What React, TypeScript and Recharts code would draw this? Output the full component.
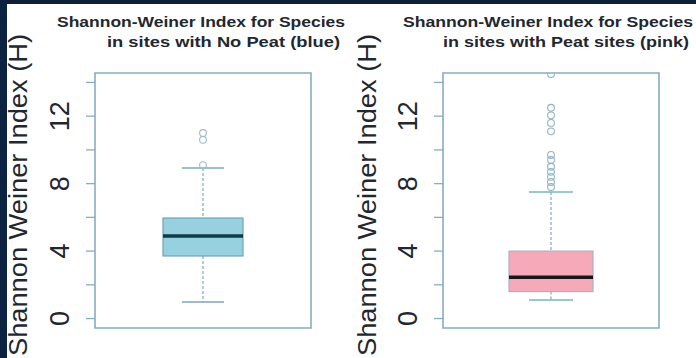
import {
  ComposedChart,
  Bar,
  Scatter,
  XAxis,
  YAxis,
  ReferenceArea,
} from "recharts";

// five-number summaries, one entry per panel
const groups = ["No Peat", "Peat"];
const whiskerLow = [0.98, 1.1];
const q1 = [3.71, 1.6];
const median = [4.9, 2.45];
const q3 = [5.96, 4.0];
const whiskerHigh = [8.93, 7.5];

const noPeatOutliers = [9.1, 10.6, 11.0];
const peatOutliers = [7.8, 8.1, 8.4, 8.7, 9.0, 9.4, 9.7, 11.1, 11.6, 12.05, 12.5, 14.5];

const yTicks = [0, 2, 4, 6, 8, 10, 12, 14];
const yLabelTicks = [0, 4, 8, 12];
const yDomain = [-0.56, 14.56];

const titleLine1 = "Shannon-Weiner Index for Species";
const titleLines2 = ["in sites with No Peat (blue)", "in sites with Peat sites (pink)"];
const yLabel = "Shannon Weiner Index (H)";

const FONT = "'Liberation Sans', Arial, sans-serif";
const FRAME = "#86adc4";
const TEXT = "#1f2830";

const palette = [
  { fill: "#97d0de", border: "#6ea3b8", median: "#0f3b46", whisker: "#7ea8bd", cap: "#7aa9bf", point: "#9dbccb" },
  { fill: "#f5a9b9", border: "#a9b3c4", median: "#17161f", whisker: "#7faabd", cap: "#79b6c2", point: "#8fb3c6" },
];

function BoxShape(props: any) {
  const { x, y, width, height, idx } = props;
  const c = palette[idx];
  const lo = whiskerLow[idx];
  const hi = whiskerHigh[idx];
  const top = height >= 0 ? y : y + height;
  const h = Math.abs(height);
  const py = (v: number) => top + ((hi - v) / (hi - lo)) * h;
  const cx = x + width / 2;
  const capHalf = width / 4 + 1;
  return (
    <g>
      <line x1={cx} x2={cx} y1={py(hi)} y2={py(q3[idx])} stroke={c.whisker} strokeWidth={1.2} strokeDasharray="3 2" />
      <line x1={cx} x2={cx} y1={py(q1[idx])} y2={py(lo)} stroke={c.whisker} strokeWidth={1.2} strokeDasharray="3 2" />
      <line x1={cx - capHalf} x2={cx + capHalf} y1={py(hi)} y2={py(hi)} stroke={c.cap} strokeWidth={1.6} />
      <line x1={cx - capHalf} x2={cx + capHalf} y1={py(lo)} y2={py(lo)} stroke={c.cap} strokeWidth={1.6} />
      <rect
        x={x}
        y={py(q3[idx])}
        width={width}
        height={py(q1[idx]) - py(q3[idx])}
        fill={c.fill}
        stroke={c.border}
        strokeWidth={1.2}
      />
      <line x1={x} x2={x + width} y1={py(median[idx])} y2={py(median[idx])} stroke={c.median} strokeWidth={3.5} />
    </g>
  );
}

function OutlierShape(props: any) {
  const { cx, cy, color } = props;
  return <circle cx={cx} cy={cy} r={3.4} fill="none" stroke={color} strokeWidth={1.1} />;
}

function TickLabel(props: any) {
  const { x, y, payload } = props;
  if (!yLabelTicks.includes(payload.value)) return null;
  return (
    <text
      x={x}
      y={y}
      transform={`rotate(-90, ${x}, ${y})`}
      textAnchor="middle"
      fontSize={27}
      fontFamily={FONT}
      fill={TEXT}
    >
      {payload.value}
    </text>
  );
}

function Panel({ idx }: { idx: number }) {
  const data = [{ name: groups[idx], range: [whiskerLow[idx], whiskerHigh[idx]] }];
  const outliers = (idx === 0 ? noPeatOutliers : peatOutliers).map((v) => ({ name: groups[idx], v }));
  const c = palette[idx];
  return (
    <ComposedChart
      width={348}
      height={358}
      data={data}
      margin={{ top: 73, right: 37, bottom: 30, left: 55 }}
    >
      <XAxis dataKey="name" type="category" allowDuplicatedCategory={false} hide />
      <YAxis
        type="number"
        domain={yDomain}
        ticks={yTicks}
        allowDataOverflow
        width={40}
        axisLine={false}
        tickSize={9}
        tickMargin={17}
        tickLine={{ stroke: FRAME, strokeWidth: 1.3 }}
        tick={<TickLabel />}
        interval={0}
      />
      <ReferenceArea y1={yDomain[0]} y2={yDomain[1]} fill="none" stroke={FRAME} strokeWidth={1.6} ifOverflow="visible" />
      <Bar
        dataKey="range"
        barSize={idx === 0 ? 80 : 84}
        isAnimationActive={false}
        shape={(p: any) => <BoxShape {...p} idx={idx} />}
      />
      <Scatter
        data={outliers}
        dataKey="v"
        isAnimationActive={false}
        shape={(p: any) => <OutlierShape {...p} color={c.point} />}
      />
    </ComposedChart>
  );
}

export default function App() {
  const titleX1 = [57, 403];
  const titleW1 = [288, 290];
  const titleX2 = [107, 443];
  const titleW2 = [233, 246];
  const labelX = [27, 376];
  return (
    <div
      style={{
        position: "fixed",
        left: 0,
        top: 0,
        width: 696,
        height: 358,
        background: "#ffffff",
        overflow: "hidden",
        fontFamily: FONT,
      }}
    >
      <div style={{ position: "absolute", left: 0, top: 0 }}>
        <Panel idx={0} />
      </div>
      <div style={{ position: "absolute", left: 348, top: 0 }}>
        <Panel idx={1} />
      </div>
      <svg width={696} height={358} style={{ position: "absolute", left: 0, top: 0, pointerEvents: "none" }}>
        <rect x={0} y={0} width={696} height={4} fill="#0d2038" />
        <rect x={0} y={0} width={7} height={358} fill="#0b2240" />
        {[0, 1].map((i) => (
          <g key={i} fontFamily={FONT} fill={TEXT}>
            <text x={titleX1[i]} y={27} fontSize={15} fontWeight="bold" textLength={titleW1[i]} lengthAdjust="spacingAndGlyphs">
              {titleLine1}
            </text>
            <text x={titleX2[i]} y={47} fontSize={15} fontWeight="bold" textLength={titleW2[i]} lengthAdjust="spacingAndGlyphs">
              {titleLines2[i]}
            </text>
            <text
              x={labelX[i]}
              y={356}
              transform={`rotate(-90, ${labelX[i]}, 356)`}
              fontSize={25}
              textLength={322}
              lengthAdjust="spacingAndGlyphs"
            >
              {yLabel}
            </text>
          </g>
        ))}
      </svg>
    </div>
  );
}
